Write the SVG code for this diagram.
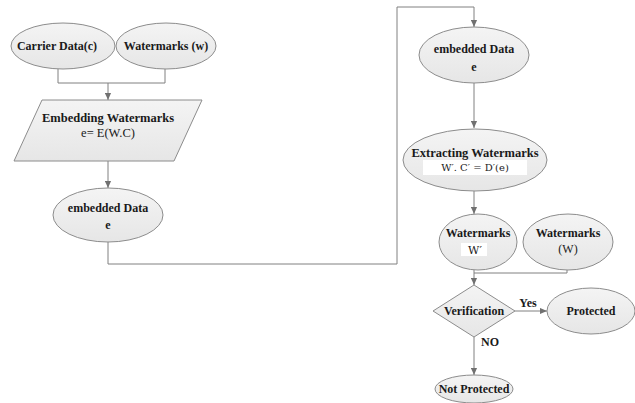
<svg xmlns="http://www.w3.org/2000/svg" width="635" height="403" viewBox="0 0 635 403">
<style>
.n{fill:url(#g);stroke:#8c8c8c;stroke-width:1}
.t{font-family:"Liberation Serif",serif;font-weight:bold;font-size:12px;fill:#1a1a1a;text-anchor:middle}
.m{font-family:"DejaVu Serif",serif;font-size:10px;fill:#1a1a1a;text-anchor:middle}
.c{fill:none;stroke:#808080;stroke-width:1}
</style>
<defs>
<linearGradient id="g" x1="0" y1="0" x2="0" y2="1">
<stop offset="0" stop-color="#f4f4f4"/>
<stop offset="1" stop-color="#e6e6e6"/>
</linearGradient>
<marker id="a" viewBox="0 0 8 8" refX="8" refY="4" markerWidth="7" markerHeight="7" orient="auto" markerUnits="userSpaceOnUse">
<path d="M0,0.5 L8,4 L0,7.5 z" fill="#707070"/>
</marker>
</defs>
<rect width="635" height="403" fill="#fff"/>
<g id="connectors">
<path class="c" d="M58,69 V83 H165 V69"/>
<path class="c" d="M108,83 V100" marker-end="url(#a)"/>
<path class="c" d="M108,161 V188" marker-end="url(#a)"/>
<path class="c" d="M108,242 V264 H397 V7 H474 V27" marker-end="url(#a)"/>
<path class="c" d="M474,83 V128" marker-end="url(#a)"/>
<path class="c" d="M474,191 V214" marker-end="url(#a)"/>
<path class="c" d="M474,270 V273 H567 V270"/>
<path class="c" d="M474,273 V285" marker-end="url(#a)"/>
<path class="c" d="M515,311 H547" marker-end="url(#a)"/>
<path class="c" d="M474,337 V375" marker-end="url(#a)"/>
<text class="t" x="528" y="307">Yes</text>
<text class="t" x="490" y="346">NO</text>
</g>
<g id="carrier">
<ellipse class="n" cx="63" cy="46" rx="52" ry="23"/>
<text class="t" x="57" y="50">Carrier Data(c)</text>
</g>
<g id="watermarks-w">
<ellipse class="n" cx="166" cy="46" rx="50" ry="23"/>
<text class="t" x="166" y="50">Watermarks (w)</text>
</g>
<g id="embedding">
<polygon class="n" points="42,100 202,100 174,161 14,161"/>
<text class="t" x="108" y="122" style="font-size:12.5px">Embedding Watermarks</text>
<text class="t" x="108" y="137" style="font-weight:normal;font-size:12.5px">e= E(W.C)</text>
</g>
<g id="embedded1">
<ellipse class="n" cx="108" cy="215" rx="55" ry="27"/>
<text class="t" x="108" y="212">embedded Data</text>
<text class="t" x="108" y="229">e</text>
</g>
<g id="embedded2">
<ellipse class="n" cx="474" cy="55" rx="55" ry="28"/>
<text class="t" x="474" y="53">embedded Data</text>
<text class="t" x="474" y="71">e</text>
</g>
<g id="extracting">
<ellipse class="n" cx="475" cy="160" rx="72" ry="31"/>
<text class="t" x="475" y="157" style="font-size:12.5px">Extracting Watermarks</text>
<rect x="423" y="160" width="104" height="15" fill="#fff"/>
<text class="m" x="475" y="171">W′. C′ = D′(e)</text>
</g>
<g id="watermarks-wp">
<ellipse class="n" cx="478" cy="242" rx="39" ry="28"/>
<text class="t" x="478" y="237">Watermarks</text>
<rect x="461" y="243" width="26" height="13" fill="#fff"/>
<text class="m" x="475" y="254" style="font-size:11px">W′</text>
</g>
<g id="watermarks-W">
<ellipse class="n" cx="568" cy="242" rx="45" ry="28"/>
<text class="t" x="568" y="237">Watermarks</text>
<text class="t" x="568" y="253" style="font-weight:normal">(W)</text>
</g>
<g id="verification">
<polygon class="n" points="474,285 515,311 474,337 433,311"/>
<text class="t" x="474" y="315">Verification</text>
</g>
<g id="protected">
<ellipse class="n" cx="591" cy="311" rx="44" ry="23"/>
<text class="t" x="591" y="315">Protected</text>
</g>
<g id="not-protected">
<ellipse class="n" cx="474" cy="389" rx="39" ry="14"/>
<text class="t" x="474" y="393">Not Protected</text>
</g>
</svg>
